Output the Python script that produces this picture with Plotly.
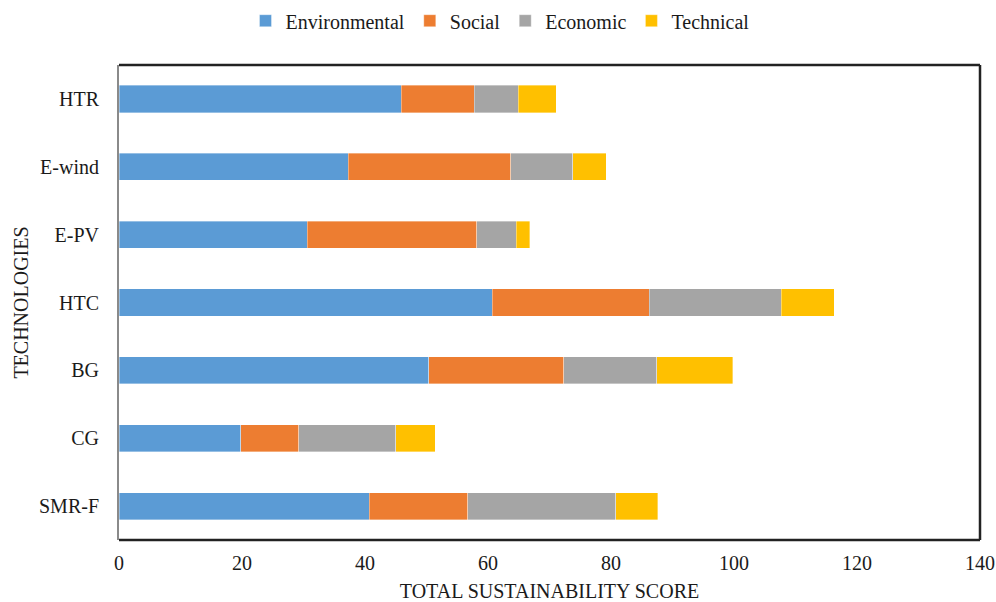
import plotly.graph_objects as go

technologies = ["SMR-F", "CG", "BG", "HTC", "E-PV", "E-wind", "HTR"]
environmental = [40.7, 19.8, 50.4, 60.7, 30.6, 37.3, 45.9]
social = [16.0, 9.4, 21.9, 25.5, 27.6, 26.4, 11.9]
economic = [24.1, 15.8, 15.1, 21.5, 6.4, 10.1, 7.1]
technical = [6.8, 6.4, 12.4, 8.6, 2.2, 5.4, 6.2]

series = [
    ("Environmental", environmental, "#5B9BD5"),
    ("Social", social, "#ED7D31"),
    ("Economic", economic, "#A5A5A5"),
    ("Technical", technical, "#FFC000"),
]

font = "Liberation Serif, Times New Roman, serif"
fig = go.Figure()
for name, vals, col in series:
    fig.add_trace(go.Bar(
        y=technologies, x=vals, name=name, orientation="h",
        marker=dict(color=col, line=dict(color="rgba(255,255,255,0.6)", width=0.6)),
    ))

fig.update_layout(
    barmode="stack",
    bargap=0.6,
    width=996, height=602,
    margin=dict(l=119, r=16, t=65, b=62),
    paper_bgcolor="white", plot_bgcolor="white",
    font=dict(family=font, size=20, color="#1a1a1a"),
    legend=dict(orientation="h", xref="container", yref="container",
                x=0.502, xanchor="center", y=0.998, yanchor="top",
                font=dict(family=font, size=20), traceorder="normal",
                itemwidth=30),
    xaxis=dict(range=[0, 140], dtick=20, showgrid=False, zeroline=False,
               ticks="", tickfont=dict(size=20), automargin=False,
               ticklabelstandoff=9,
               title=dict(text="TOTAL SUSTAINABILITY SCORE", font=dict(size=20), standoff=14)),
    yaxis=dict(categoryorder="array", categoryarray=technologies,
               showgrid=False, ticks="", ticklabelstandoff=14, automargin=False,
               showline=True, linecolor="#8a8a8a", linewidth=2,
               tickfont=dict(size=20),
               title=dict(text="TECHNOLOGIES", font=dict(size=20), standoff=5)),
)

fig.add_shape(type="line", xref="paper", yref="paper", x0=0, x1=1, y0=1, y1=1,
              line=dict(color="#222", width=2.5))
fig.add_shape(type="line", xref="paper", yref="paper", x0=1, x1=1, y0=0, y1=1,
              line=dict(color="#222", width=2.5))
fig.add_shape(type="line", xref="paper", yref="paper", x0=0, x1=1, y0=0, y1=0,
              line=dict(color="#222", width=2.5))

fig.write_html("out.html")
